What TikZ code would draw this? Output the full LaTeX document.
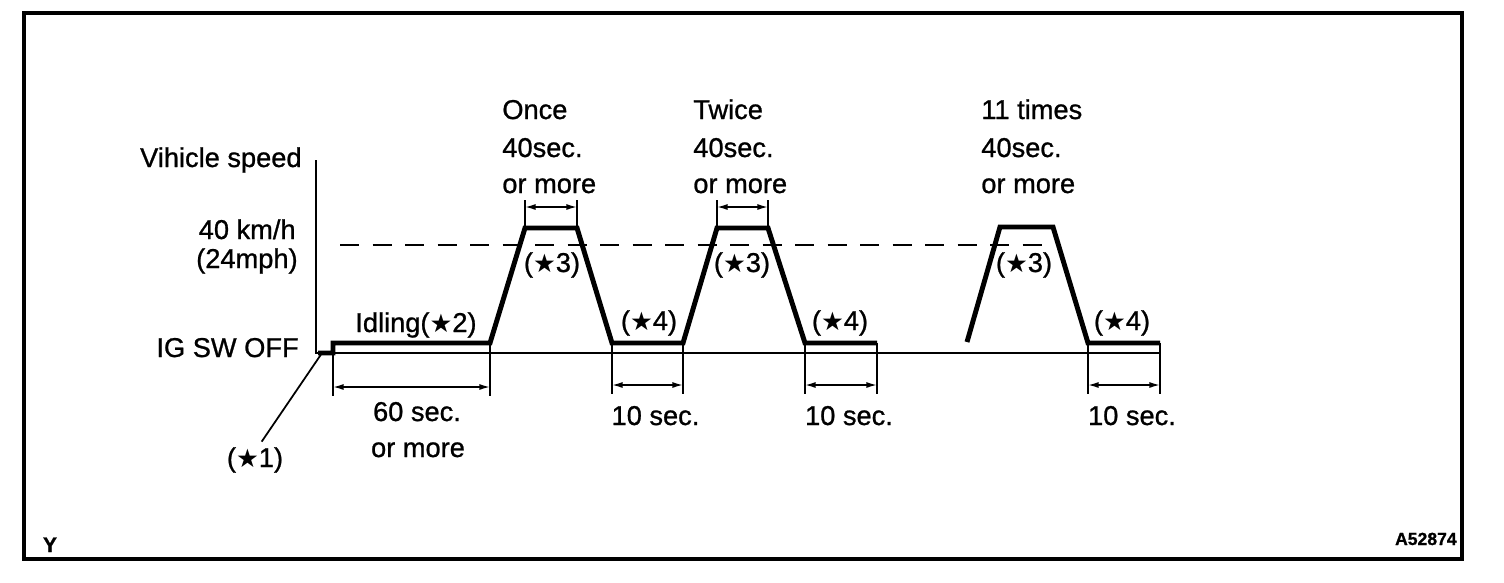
\documentclass[tikz,border=0pt]{standalone}
\usepackage{fontspec}
\setmainfont{Liberation Sans}[FakeBold=0.9]
\newfontfamily\symfont{DejaVu Sans}
\usetikzlibrary{arrows.meta}
\newcommand{\bstar}{{\symfont\fontsize{14.5}{14.5}\selectfont ★}}

\begin{document}
\begin{tikzpicture}[x=0.02cm, y=-0.02cm,
    every node/.style={inner sep=0pt, font=\fontsize{15.5}{18}\selectfont},
    axisline/.style={line width=1.1pt},
    profile/.style={line width=2.8pt},
    extline/.style={line width=1pt},
    dimline/.style={line width=0.9pt, {Latex[length=6pt,width=3.4pt]}-{Latex[length=6pt,width=3.4pt]}},
    tag/.style={font=\fontsize{10}{11}\selectfont\bfseries}]
      \useasboundingbox (0,0) rectangle (1504,582);

      % Frame
      \draw[line width=2.3pt] (24,13) rectangle (1462,559);
      \node[tag, font=\fontsize{12}{12}\selectfont\bfseries, anchor=base] (ytag) at (50,552) {Y};
      \node[tag, anchor=base east] (ftag) at (1457,545) {A52874};

      % Axes
      \draw[axisline] (316,160) -- (316,353) -- (1160,353);
      \draw[axisline, dash pattern=on 11pt off 7.5pt] (340,245) -- (1052,245);

      % Axis labels
      \node[anchor=base east] (vs) at (302,167) {Vihicle speed};
      \node[anchor=base east] (kmh) at (296,239) {40 km/h};
      \node[anchor=base east] (mph) at (298,268) {(24mph)};
      \node[anchor=base east] (igoff) at (299,357) {IG SW OFF};

      % Speed profile
      \coordinate (knee) at (322,353);
      \coordinate (k1) at (333,353);
      \coordinate (k2) at (333,343);
      \coordinate (a1) at (490,343);
      \coordinate (a2) at (525,228);
      \coordinate (a3) at (577,228);
      \coordinate (a4) at (612,343);
      \coordinate (b1) at (683,343);
      \coordinate (b2) at (717,228);
      \coordinate (b3) at (768,228);
      \coordinate (b4) at (805,343);
      \coordinate (b5) at (877,343);
      \coordinate (c1) at (967,342);
      \coordinate (c2) at (1000,227);
      \coordinate (c3) at (1053,227);
      \coordinate (c4) at (1088,343);
      \coordinate (c5) at (1160,343);
      \draw[profile] (318,353) -- (k1) -- (k2) -- (a1) -- (a2) -- (a3) -- (a4) -- (b1)
                     -- (b2) -- (b3) -- (b4) -- (b5);
      \draw[profile] (c1) -- (c2) -- (c3) -- (c4) -- (c5);

      % Step labels
      \node[anchor=base west] (idle) at (355,332) {Idling(\bstar2)};
      \foreach \x [count=\i] in {552,742,1024} {
        \node[anchor=base] (s3-\i) at (\x,272) {(\bstar3)};
      }
      \foreach \x [count=\i] in {649,840,1122} {
        \node[anchor=base] (s4-\i) at (\x,330) {(\bstar4)};
      }
      \node[anchor=base, inner sep=3pt] (s1) at (255,467) {(\bstar1)};
      \draw[extline] (s1.70) -- (knee);

      % Repeat labels
      \foreach \x/\w [count=\i] in {502/Once, 693/Twice, 981/11 times} {
        \node[anchor=base west] (rep-\i) at (\x,119) {\w};
        \node[anchor=base west] (rep-\i-t) at (\x,157) {40sec.};
        \node[anchor=base west] (rep-\i-m) at (\x,193) {or more};
      }

      % Dimensions, top
      \foreach \a/\b in {525/577, 717/768} {
        \draw[extline] (\a,228) -- (\a,200);
        \draw[extline] (\b,228) -- (\b,200);
        \draw[dimline] (\a,207) -- (\b,207);
      }

      % Dimensions, bottom
      \draw[extline] (333,343) -- (333,396);
      \draw[extline] (490,343) -- (490,396);
      \draw[dimline] (333,387) -- (490,387);
      \node[anchor=base] (t60) at (417,421) {60 sec.};
      \node[anchor=base] (t60m) at (418,457) {or more};
      \foreach \a/\b [count=\i] in {612/683, 805/877, 1088/1160} {
        \draw[extline] (\a,343) -- (\a,394);
        \draw[extline] (\b,343) -- (\b,394);
        \draw[dimline] (\a,385) -- (\b,385);
        \node[anchor=base] (t10-\i) at ({(\a+\b)/2+8},425) {10 sec.};
      }
    \end{tikzpicture}
\end{document}
